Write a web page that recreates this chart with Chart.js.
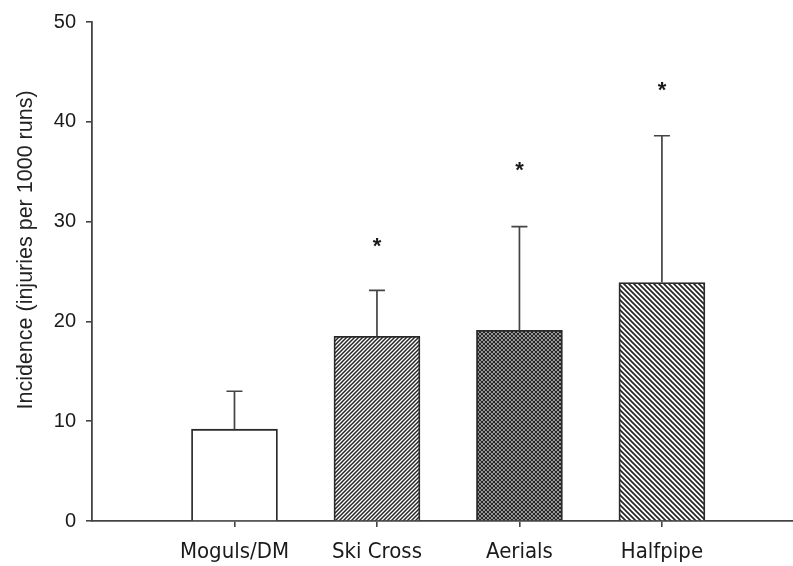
<!DOCTYPE html>
<html>
<head>
<meta charset="utf-8">
<script src="https://cdn.jsdelivr.net/npm/chart.js@4.4.1/dist/chart.umd.min.js"></script>
<style>
html,body{margin:0;padding:0;background:#fff;}
#wrap{width:793px;height:566px;position:relative;}
</style>
</head>
<body>
<div id="wrap"><canvas id="c" width="793" height="566"></canvas></div>
<script>
// ---- data ----
const categories = ['Moguls/DM', 'Ski Cross', 'Aerials', 'Halfpipe'];
const categoryPositions = [1, 2, 3, 4];
const meanIncidence = [9.2, 18.5, 19.1, 23.9];
const errorUpper = [13.0, 23.1, 29.5, 38.6];
const significanceMarkY = [null, 27.9, 35.5, 43.5];
const yTicks = [0, 10, 20, 30, 40, 50];
const yTitle = 'Incidence (injuries per 1000 runs)';

// ---- patterns ----
function makeTile(size, draw) {
  const t = document.createElement('canvas');
  t.width = size; t.height = size;
  const g = t.getContext('2d');
  g.fillStyle = '#fff'; g.fillRect(0, 0, size, size);
  draw(g, size);
  return document.getElementById('c').getContext('2d').createPattern(t, 'repeat');
}
function fwd(g, s) { // "/"
  g.beginPath();
  g.moveTo(-1, s + 1); g.lineTo(s + 1, -1);
  g.moveTo(-1, 1); g.lineTo(1, -1);
  g.moveTo(s - 1, s + 1); g.lineTo(s + 1, s - 1);
  g.stroke();
}
function back(g, s) { // "\"
  g.beginPath();
  g.moveTo(-1, -1); g.lineTo(s + 1, s + 1);
  g.moveTo(s - 1, -1); g.lineTo(s + 1, 1);
  g.moveTo(-1, s - 1); g.lineTo(1, s + 1);
  g.stroke();
}
const patSki = makeTile(4, (g, s) => { g.strokeStyle = '#262626'; g.lineWidth = 1.5; fwd(g, s); });
const patAer = makeTile(4, (g, s) => { g.strokeStyle = '#262626'; g.lineWidth = 1.4; fwd(g, s); back(g, s); });
const patHalf = makeTile(5, (g, s) => { g.strokeStyle = '#262626'; g.lineWidth = 1.7; back(g, s); });
const fills = ['#ffffff', patSki, patAer, patHalf];

const barData = categoryPositions.map((x, i) => ({ x: x, y: meanIncidence[i] }));

// ---- plugins ----
const extras = {
  id: 'extras',
  afterDatasetsDraw(chart) {
    const ctx = chart.ctx;
    const xs = chart.scales.x, ys = chart.scales.y;
    ctx.save();
    // error bars (upper only)
    ctx.strokeStyle = '#444';
    ctx.lineWidth = 1.7;
    categoryPositions.forEach((p, i) => {
      const x = xs.getPixelForValue(p);
      const y0 = ys.getPixelForValue(meanIncidence[i]);
      const y1 = ys.getPixelForValue(errorUpper[i]);
      ctx.beginPath();
      ctx.moveTo(x, y0); ctx.lineTo(x, y1);
      ctx.moveTo(x - 8, y1); ctx.lineTo(x + 8, y1);
      ctx.stroke();
    });
    // significance marks
    ctx.fillStyle = '#1a1a1a';
    ctx.font = 'bold 22px "Liberation Sans", Arial, sans-serif';
    ctx.textAlign = 'center';
    ctx.textBaseline = 'alphabetic';
    categoryPositions.forEach((p, i) => {
      if (significanceMarkY[i] == null) return;
      const x = xs.getPixelForValue(p);
      const y = ys.getPixelForValue(significanceMarkY[i]);
      ctx.fillText('*', x, y + 10);
    });
    // y axis title
    ctx.translate(26, 250);
    ctx.rotate(-Math.PI / 2);
    ctx.font = '21.5px "Liberation Sans", Arial, sans-serif';
    ctx.textBaseline = 'middle';
    ctx.fillStyle = '#222';
    ctx.fillText(yTitle, 0, 0);
    ctx.restore();
  }
};

new Chart(document.getElementById('c'), {
  type: 'bar',
  data: {
    datasets: [{
      data: barData,
      backgroundColor: fills,
      borderColor: '#2a2a2a',
      borderWidth: 1.8,
      borderSkipped: 'bottom',
      barThickness: 86
    }]
  },
  options: {
    responsive: false,
    animation: false,
    devicePixelRatio: 1,
    layout: { padding: { top: 21, right: 0, left: 0, bottom: 0 } },
    plugins: { legend: { display: false }, tooltip: { enabled: false } },
    scales: {
      x: {
        type: 'linear',
        min: 0,
        max: 4.92,
        offset: false,
        afterBuildTicks: s => { s.ticks = categoryPositions.map(v => ({ value: v })); },
        afterFit: s => { s.height = 45; },
        grid: { display: true, offset: false, drawOnChartArea: false, drawTicks: true, tickLength: 6, color: '#444', lineWidth: 1.6 },
        border: { display: true, color: '#444', width: 1.8 },
        ticks: {
          autoSkip: false,
          maxRotation: 0,
          padding: 12,
          color: '#1a1a1a',
          font: { family: '"DejaVu Sans Condensed", "DejaVu Sans", sans-serif', size: 22 },
          callback: v => categories[categoryPositions.indexOf(v)] || ''
        }
      },
      y: {
        min: 0,
        max: 50,
        afterBuildTicks: s => { s.ticks = yTicks.map(v => ({ value: v })); },
        afterFit: s => { s.width = 92; },
        grid: { display: true, drawOnChartArea: false, drawTicks: true, tickLength: 6, color: '#444', lineWidth: 1.6 },
        border: { display: true, color: '#444', width: 1.8 },
        ticks: {
          padding: 10,
          color: '#1a1a1a',
          font: { family: '"Liberation Sans", Arial, sans-serif', size: 20 }
        }
      }
    }
  },
  plugins: [extras]
});
</script>
</body>
</html>
